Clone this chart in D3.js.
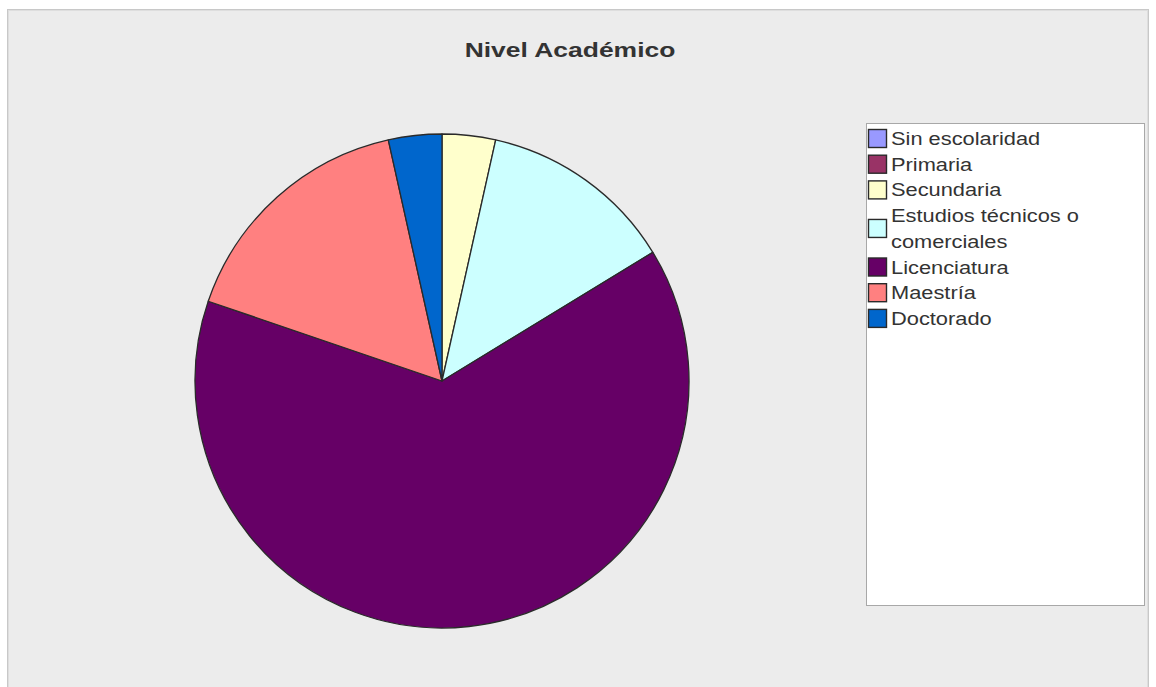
<!DOCTYPE html>
<html><head><meta charset="utf-8">
<script src="https://cdn.jsdelivr.net/npm/d3@7"></script>
<style>html,body{margin:0;padding:0;background:#fff;}svg{display:block;}</style>
</head><body>
<svg id="chart" width="1156" height="687"></svg>
<script>
const title = "Nivel Académico";
const categories = ["Sin escolaridad","Primaria","Secundaria","Estudios técnicos o comerciales","Licenciatura","Maestría","Doctorado"];
const values = [0,0,3,11,55,14,3];
const colors = ["#9999ff","#993366","#ffffcc","#ccffff","#660066","#ff8080","#0066cc"];

const svg = d3.select("#chart");
// outer frame
svg.append("rect").attr("x",7.5).attr("y",9.5).attr("width",1141).attr("height",690)
  .attr("fill","#ececec").attr("stroke","#c8c8c8").attr("stroke-width",1);
svg.append("rect").attr("x",8.5).attr("y",10.5).attr("width",1139).attr("height",690)
  .attr("fill","none").attr("stroke","#dedede").attr("stroke-width",1);

// title
svg.append("text").attr("transform","translate(570,57) scale(1.26,1)")
  .attr("text-anchor","middle").attr("font-family","Liberation Sans, Arial, sans-serif")
  .attr("font-weight","bold").attr("font-size",21).attr("fill","#333").text(title);

// pie
const cx = 442, cy = 381, r = 247;
const pie = d3.pie().sort(null).value(d => d.v);
const data = categories.map((c,i)=>({c, v: values[i], col: colors[i]}));
const arc = d3.arc().innerRadius(0).outerRadius(r);
svg.append("g").attr("transform",`translate(${cx},${cy})`)
  .selectAll("path").data(pie(data).filter(d=>d.data.v>0)).join("path")
  .attr("d",arc).attr("fill",d=>d.data.col).attr("stroke","#2a2a2a").attr("stroke-width",1.3)
  .attr("stroke-linejoin","round");

// legend
svg.append("rect").attr("x",866.5).attr("y",123.5).attr("width",278).attr("height",482)
  .attr("fill","#fff").attr("stroke","#a8a8a8");
const sx = 1.18, fs = 18.5, lineH = 25.7, maxW = 205;
const lg = svg.append("g");
let line = 0;
const baseY = 145;
data.forEach((d,i)=>{
  const words = d.c.split(" ");
  const tmp = svg.append("text").attr("font-family","Liberation Sans, Arial, sans-serif").attr("font-size",fs);
  const lines = []; let cur = "";
  words.forEach(w=>{
    const test = cur ? cur + " " + w : w;
    tmp.text(test);
    if (tmp.node().getComputedTextLength() > maxW && cur) { lines.push(cur); cur = w; }
    else cur = test;
  });
  lines.push(cur);
  tmp.remove();
  const firstBase = baseY + line*lineH;
  const midY = firstBase - 6.5 + (lines.length-1)*lineH/2;
  lg.append("rect").attr("x",868.5).attr("y",midY-9).attr("width",18).attr("height",18)
    .attr("fill",d.col).attr("stroke","#2a2a2a").attr("stroke-width",1.4);
  lines.forEach((t,k)=>{
    lg.append("text").attr("transform",`translate(891,${firstBase + k*lineH}) scale(${sx},1)`)
      .attr("font-family","Liberation Sans, Arial, sans-serif").attr("font-size",fs)
      .attr("fill","#333").text(t);
  });
  line += lines.length;
});
</script>
</body></html>
